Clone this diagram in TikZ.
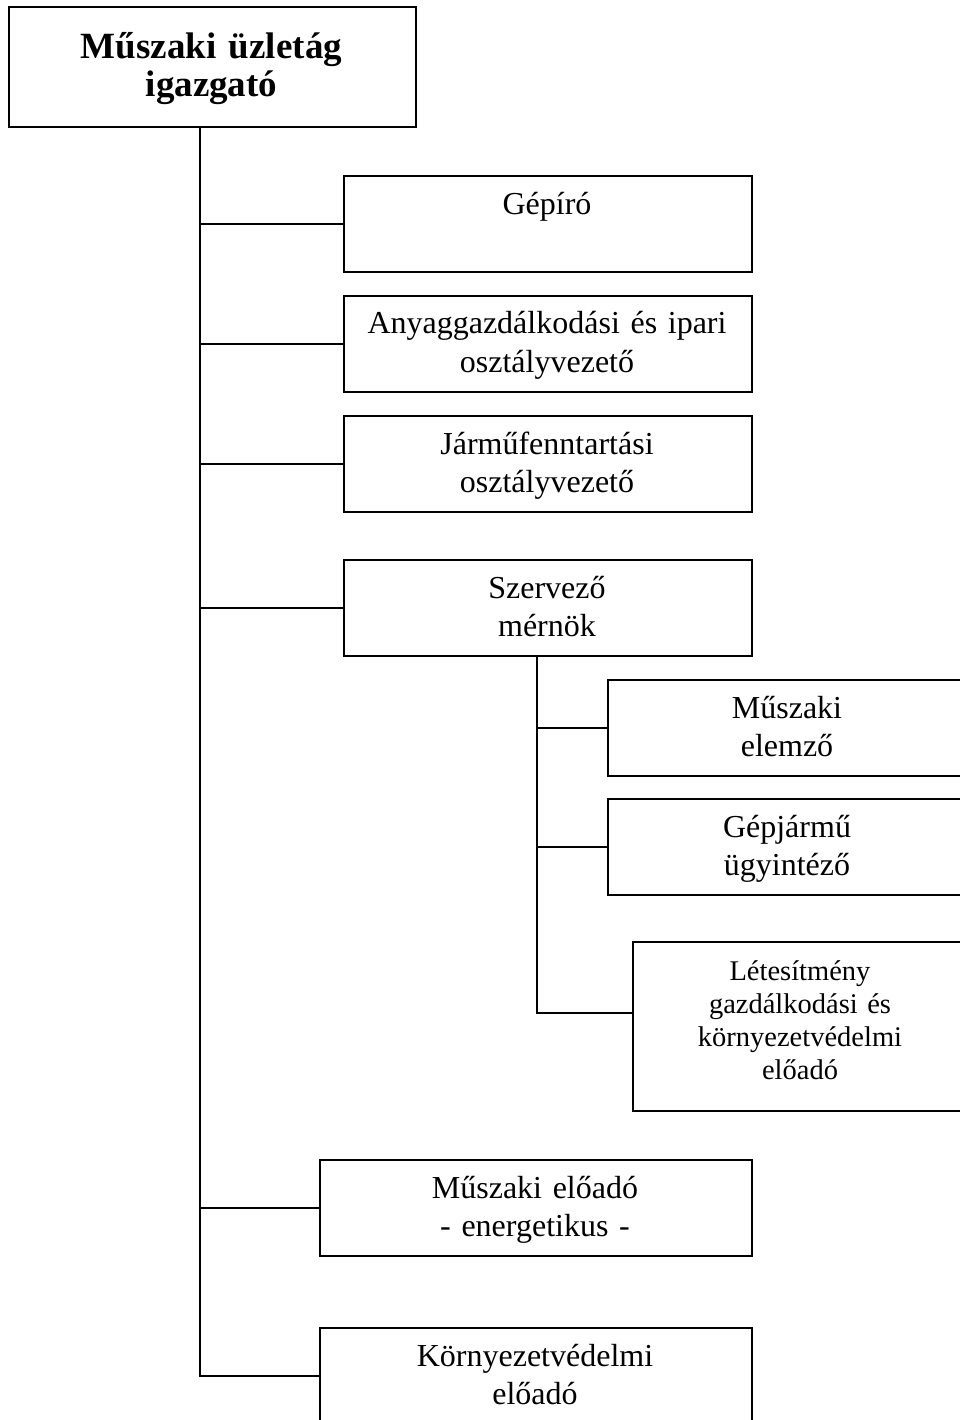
\documentclass[tikz,border=0pt]{standalone}
\usepackage{fontspec}
\setmainfont{Liberation Serif}
\begin{document}
\begin{tikzpicture}[x=1pt,y=-1pt,
  box/.style={draw=black, line width=2pt, inner sep=0pt, anchor=north west},
  txt/.style={anchor=base, align=center, inner sep=0pt, text width=400pt,
              font=\fontsize{32}{38}\selectfont},
  smalltxt/.style={txt, text width=320pt, font=\fontsize{28.5}{33.3}\selectfont},
  headtxt/.style={txt, font=\bfseries\fontsize{37}{38}\selectfont},
  link/.style={line width=2pt, line cap=rect}]

\useasboundingbox (0,0) rectangle (960,1420);
\fill[white] (0,0) rectangle (960,1420);
\clip (0,0) rectangle (960,1420);

% boxes
\node[box, minimum width=407pt, minimum height=120pt] (head)  at (8,6) {};
\node[box, minimum width=408pt, minimum height=96pt]  (gep)   at (343,175) {};
\node[box, minimum width=408pt, minimum height=96pt]  (anyag) at (343,295) {};
\node[box, minimum width=408pt, minimum height=96pt]  (jarmu) at (343,415) {};
\node[box, minimum width=408pt, minimum height=96pt]  (szerv) at (343,559) {};
\node[box, minimum width=360pt, minimum height=96pt]  (elem)  at (607,679) {};
\node[box, minimum width=360pt, minimum height=96pt]  (gepj)  at (607,798) {};
\node[box, minimum width=336pt, minimum height=169pt] (letes) at (632,941) {};
\node[box, minimum width=432pt, minimum height=96pt]  (energ) at (319,1159) {};
\node[box, minimum width=432pt, minimum height=96pt]  (korny) at (319,1327) {};

% labels
\node[headtxt] (headl) at (211.5,59) {Műszaki üzletág\\igazgató};
\node[txt] (gepl)   at (547,215)  {Gépíró};
\node[txt] (anyagl) at (547,334)  {Anyaggazdálkodási és ipari\\osztályvezető};
\node[txt] (jarmul) at (547,454)  {Járműfenntartási\\osztályvezető};
\node[txt] (szervl) at (547,598)  {Szervező\\mérnök};
\node[txt] (eleml)  at (787,718)  {Műszaki\\elemző};
\node[txt] (gepjl)  at (787,837)  {Gépjármű\\ügyintéző};
\node[smalltxt] (letesl) at (800,980) {Létesítmény\\gazdálkodási és\\környezetvédelmi\\előadó};
\node[txt] (energl) at (535,1198) {Műszaki előadó\\- energetikus -};
\node[txt] (kornyl) at (535,1366) {Környezetvédelmi\\előadó};

% connector lines
\coordinate (trunk) at (200,0);
\coordinate (sub) at (537,0);
\coordinate (letin) at (632,1013);

\draw[link] (trunk |- head.south) -- (trunk |- korny.west);
\foreach \b in {gep,anyag,jarmu,szerv,energ,korny}
  \draw[link] (trunk |- \b.west) -- (\b.west);

\draw[link] (sub |- szerv.south) -- (sub |- letin);
\foreach \b in {elem,gepj}
  \draw[link] (sub |- \b.west) -- (\b.west);
\draw[link] (sub |- letin) -- (letin);
\end{tikzpicture}
\end{document}
